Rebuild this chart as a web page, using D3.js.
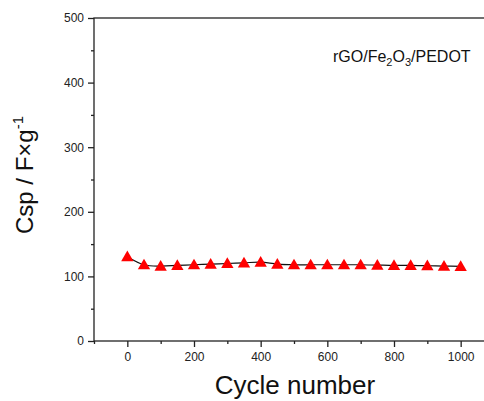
<!DOCTYPE html>
<html>
<head>
<meta charset="utf-8">
<script src="https://cdn.jsdelivr.net/npm/d3@7"></script>
<style>
  body { margin: 0; background: #fff; }
  svg { display: block; font-family: Arial, "Liberation Sans", sans-serif; }
</style>
</head>
<body>
<div class="canvas"></div>
<script>
// data
var cycles = [0, 50, 100, 150, 200, 250, 300, 350, 400, 450, 500, 550, 600, 650, 700, 750, 800, 850, 900, 950, 1000];
var csp = [130.5, 118, 116, 117, 118, 119, 120, 121, 122, 119, 118, 118, 118, 118, 118, 117.5, 117, 117, 116.5, 116, 115.5];
var xTicks = [0, 200, 400, 600, 800, 1000];
var xMinor = [-100, 100, 300, 500, 700, 900, 1100];
var yTicks = [0, 100, 200, 300, 400, 500];
var yMinor = [50, 150, 250, 350, 450];

var W = 484, H = 401;
var margin = {t:18, l:94, b:60, r:-10};
var width = W - margin.l - margin.r,
    height = H - margin.t - margin.b;

var svg = d3.select('.canvas')
    .append('svg')
    .attr('width', W)
    .attr('height', H);

var x = d3.scaleLinear().domain([-100, 1100]).range([0, width]);
var y = d3.scaleLinear().domain([0, 500]).range([height, 0]);

var g = svg.append('g')
    .attr('transform', 'translate(' + margin.l + ',' + margin.t + ')');

var axisColor = '#222';

// frame
g.append('rect')
    .attr('x', 0).attr('y', 0)
    .attr('width', width).attr('height', height)
    .attr('fill', 'none')
    .attr('stroke', axisColor)
    .attr('stroke-width', 1.3);

// x axis
g.append('g')
    .attr('transform', 'translate(0,' + height + ')')
    .call(d3.axisBottom(x).tickValues(xTicks).tickSize(6).tickPadding(5).tickFormat(d3.format('d')));
g.append('g')
    .attr('transform', 'translate(0,' + height + ')')
    .call(d3.axisBottom(x).tickValues(xMinor).tickSize(3).tickFormat(''));

// y axis
g.append('g')
    .call(d3.axisLeft(y).tickValues(yTicks).tickSize(6).tickPadding(4).tickFormat(d3.format('d')));
g.append('g')
    .call(d3.axisLeft(y).tickValues(yMinor).tickSize(3).tickFormat(''));

g.selectAll('.domain').remove();
g.selectAll('.tick line').attr('stroke', axisColor).attr('stroke-width', 1.3);
g.selectAll('.tick text')
    .attr('fill', '#222')
    .attr('font-size', '12px')
    .attr('font-family', 'Arial, "Liberation Sans", sans-serif');

// line + markers
var line = d3.line()
    .x(function(d, i) { return x(cycles[i]); })
    .y(function(d) { return y(d); })
    .curve(d3.curveCatmullRom);

g.append('path')
    .datum(csp)
    .attr('d', line)
    .attr('fill', 'none')
    .attr('stroke', '#111')
    .attr('stroke-width', 1.2);

var tri = d3.symbol().type(d3.symbolTriangle).size(66);
g.selectAll('.pt')
    .data(csp)
    .enter().append('path')
    .attr('class', 'pt')
    .attr('d', tri)
    .attr('transform', function(d, i) { return 'translate(' + x(cycles[i]) + ',' + (y(d) + 1) + ')'; })
    .attr('fill', '#ff0000');

// annotation
var ann = svg.append('text')
    .attr('x', 333)
    .attr('y', 62)
    .attr('font-size', '16px')
    .attr('fill', '#111');
ann.append('tspan').text('rGO/Fe');
ann.append('tspan').attr('font-size', '11px').attr('dy', 4).text('2');
ann.append('tspan').attr('dy', -4).text('O');
ann.append('tspan').attr('font-size', '11px').attr('dy', 4).text('3');
ann.append('tspan').attr('dy', -4).text('/PEDOT');

// axis titles
svg.append('text')
    .attr('x', 295)
    .attr('y', 394)
    .attr('text-anchor', 'middle')
    .attr('font-size', '26px')
    .attr('fill', '#111')
    .text('Cycle number');

var yl = svg.append('text')
    .attr('transform', 'translate(33,175) rotate(-90)')
    .attr('text-anchor', 'middle')
    .attr('font-size', '24px')
    .attr('fill', '#111');
yl.append('tspan').text('Csp / F\u00d7g');
yl.append('tspan').attr('font-size', '15px').attr('dy', -10).text('-1');
</script>
</body>
</html>
